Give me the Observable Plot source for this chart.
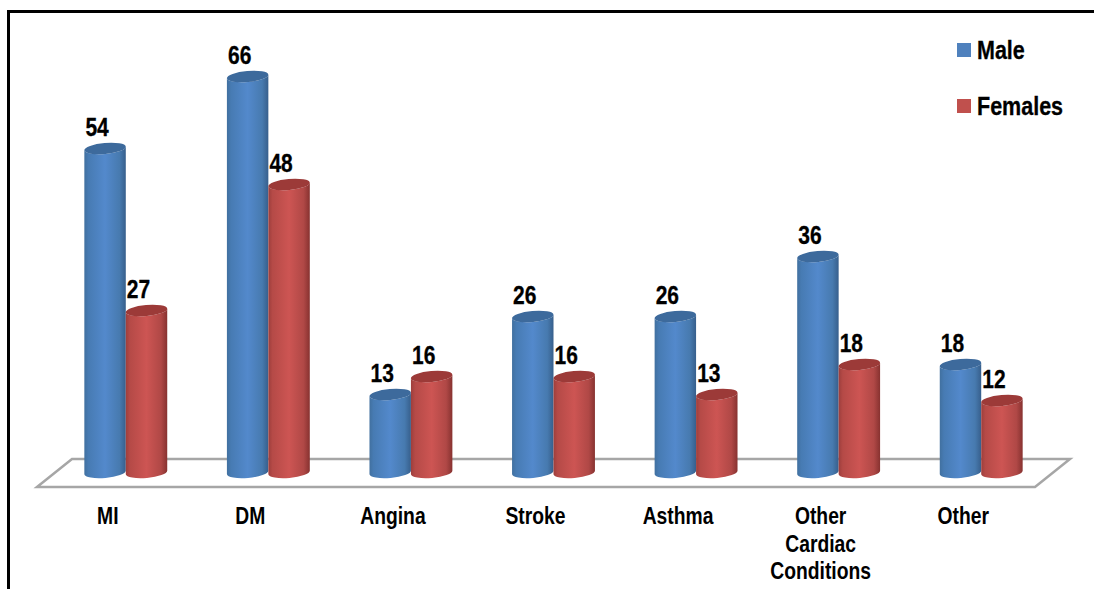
<!DOCTYPE html>
<html>
<head>
<meta charset="utf-8">
<script src="https://cdn.jsdelivr.net/npm/d3@7"></script>
<script src="https://cdn.jsdelivr.net/npm/@observablehq/plot@0.6"></script>
<style>
  html, body { margin: 0; padding: 0; background: #fff; overflow: hidden; }
  #wrap { position: relative; width: 1094px; height: 589px; }
  #wrap svg { display: block; }
  #frame { position: absolute; left: 7px; top: 10px; right: -10px; bottom: -10px; border: 3px solid #000; pointer-events: none; }
  .lg { position: absolute; left: 957px; display: flex; align-items: center; font: bold 25px "Liberation Sans", sans-serif; color: #000; line-height: 28px; white-space: nowrap; -webkit-text-stroke: 0.3px #000; }
  .lg i { display: block; width: 14px; height: 14px; margin-right: 6px; }
  .lg span { display: inline-block; transform: scaleX(0.86); transform-origin: left center; }
</style>
</head>
<body>
<div id="wrap"><div id="frame"></div></div>
<script>
const categories = ["MI", "DM", "Angina", "Stroke", "Asthma", "Other\nCardiac\nConditions", "Other"];
const seriesNames = ["Male", "Females"];
const male = [54, 66, 13, 26, 26, 36, 18];
const females = [27, 48, 16, 16, 13, 18, 12];
const swatches = ["#4f81bd", "#c0504d"];

const rows = categories.flatMap((c, i) => [
  {category: c, series: "Male", value: male[i]},
  {category: c, series: "Females", value: females[i]}
]);

const font = '"Liberation Sans", sans-serif';
const depthX = 17.5, depthY = -14.5;
const tilt = 5 * Math.PI / 180, ry = 5.5;

function cylinders(index, scales, values, dimensions, context, next) {
  const g = next(index, scales, values, dimensions, context);
  for (const rect of Array.from(g.querySelectorAll("rect"))) {
    const x = +rect.getAttribute("x"), y = +rect.getAttribute("y");
    const w = +rect.getAttribute("width"), h = +rect.getAttribute("height");
    const fill = rect.getAttribute("fill");
    const parent = rect.parentNode;
    const s = (w / 2) * Math.sin(tilt), rx = (w / 2) / Math.cos(tilt);
    const deg = -5;
    const yb = y + h;
    const body = document.createElementNS("http://www.w3.org/2000/svg", "path");
    body.setAttribute("d",
      `M${x},${y + s}L${x},${yb + s}A${rx},${ry} ${deg} 0 0 ${x + w},${yb - s}L${x + w},${y - s}A${rx},${ry} ${deg} 0 1 ${x},${y + s}Z`);
    body.setAttribute("fill", fill);
    const top = document.createElementNS("http://www.w3.org/2000/svg", "ellipse");
    top.setAttribute("cx", x + w / 2); top.setAttribute("cy", y);
    top.setAttribute("rx", rx); top.setAttribute("ry", ry);
    top.setAttribute("transform", `rotate(${deg} ${x + w / 2} ${y})`);
    top.setAttribute("fill", fill.includes("Male") ? "#3d6a9c" : "#9c3a38");
    parent.insertBefore(body, rect);
    parent.insertBefore(top, rect);
    parent.removeChild(rect);
  }
  return g;
}

function floor(index, scales, values, dimensions) {
  const g = document.createElementNS("http://www.w3.org/2000/svg", "g");
  const p = document.createElementNS("http://www.w3.org/2000/svg", "path");
  const l = dimensions.marginLeft, r = dimensions.width - dimensions.marginRight, y0 = scales.y(0);
  const dx = depthX * 2, dy = -28;
  p.setAttribute("d", `M${l},${y0}L${l + dx},${y0 + dy}L${r + dx},${y0 + dy}L${r},${y0}Z`);
  p.setAttribute("fill", "#fff");
  p.setAttribute("stroke", "#a6a6a6");
  p.setAttribute("stroke-width", 2.5);
  g.appendChild(p);
  return g;
}

const chart = Plot.plot({
  width: 1094,
  height: 589,
  marginLeft: 37,
  marginRight: 59,
  marginTop: 19,
  marginBottom: 102,
  style: {background: "transparent", overflow: "visible"},
  fx: {domain: categories, padding: 0, round: false, axis: null},
  x: {domain: seriesNames, paddingInner: 0, paddingOuter: 0.72, round: false, axis: null},
  y: {domain: [0, 78], axis: null},
  color: {domain: seriesNames, range: ["url(#gradMale)", "url(#gradFemales)"]},
  marks: [
    Plot.rect([0], {facet: "super", render: floor}),
    Plot.barY(rows, {
      fx: "category", x: "series", y: "value", fill: "series",
      dx: depthX, dy: depthY, render: cylinders
    }),
    Plot.text(rows, {
      fx: "category", x: "series", y: "value", text: "value",
      dx: depthX - 8.5, dy: depthY - 21,
      fontFamily: font, fontWeight: "bold", fontSize: 25, fill: "#000",
      stroke: "#000", strokeWidth: 0.3
    }),
    Plot.axisFx({
      anchor: "bottom", tickSize: 0, tickPadding: 17, lineAnchor: "top", label: null, dx: -1,
      fontFamily: font, fontWeight: "bold", fontSize: 23, lineHeight: 1.2, fill: "#000",
      stroke: "#000", strokeWidth: 0.3,
      textOverflow: null, tickFormat: d => d
    })
  ]
});

// The reference uses a narrow bold face: condense the text horizontally around its anchor.
for (const t of chart.querySelectorAll("text")) {
  const tr = t.getAttribute("transform") || "";
  t.setAttribute("transform", `${tr} scale(0.84,1)`);
}

const defs = document.createElementNS("http://www.w3.org/2000/svg", "defs");
defs.innerHTML = `
<linearGradient id="gradMale" x1="0" x2="1" y1="0" y2="0">
  <stop offset="0" stop-color="#41709f"/><stop offset="0.1" stop-color="#477bb3"/>
  <stop offset="0.5" stop-color="#5389cc"/><stop offset="0.85" stop-color="#477aaf"/>
  <stop offset="1" stop-color="#375f8c"/>
</linearGradient>
<linearGradient id="gradFemales" x1="0" x2="1" y1="0" y2="0">
  <stop offset="0" stop-color="#9d3e3c"/><stop offset="0.1" stop-color="#b54a47"/>
  <stop offset="0.5" stop-color="#cd5553"/><stop offset="0.85" stop-color="#b04846"/>
  <stop offset="1" stop-color="#873230"/>
</linearGradient>`;
chart.insertBefore(defs, chart.firstChild);

const wrap = document.getElementById("wrap");
wrap.insertBefore(chart, wrap.firstChild);

seriesNames.forEach((name, i) => {
  const div = document.createElement("div");
  div.className = "lg";
  div.style.top = (36 + i * 56) + "px";
  const sw = document.createElement("i");
  sw.style.background = swatches[i];
  div.appendChild(sw);
  const label = document.createElement("span");
  label.textContent = name;
  div.appendChild(label);
  wrap.appendChild(div);
});
</script>
</body>
</html>
